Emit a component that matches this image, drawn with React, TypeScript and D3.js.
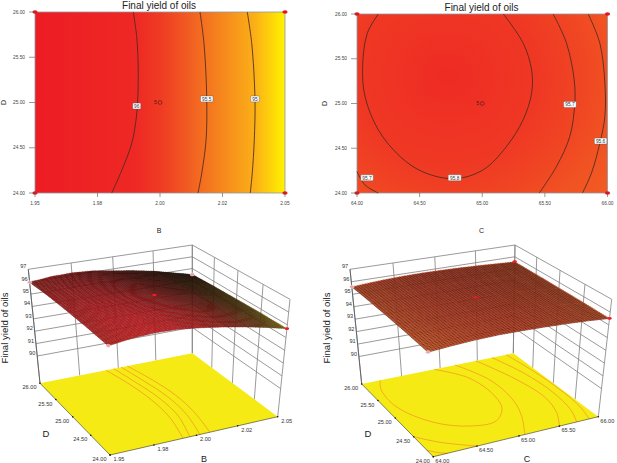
import * as React from 'react';
import * as d3 from 'd3';

type Pt = [number, number];

const FONT = '"Liberation Sans", Arial, sans-serif';
const TITLE = 'Final yield of oils';
const DTICKS = [24, 24.5, 25, 25.5, 26];
const BTICKS = [1.95, 1.975, 2.0, 2.025, 2.05];
const CTICKS = [64, 64.5, 65, 65.5, 66];
const BLABELS = ['1.95', '1.98', '2.00', '2.02', '2.05'];
const CLABELS = ['64.00', '64.50', '65.00', '65.50', '66.00'];
const DLABELS = ['24.00', '24.50', '25.00', '25.50', '26.00'];
const ZTICKS = [90, 91, 92, 93, 94, 95, 96, 97];

// contour lines, [x, D]
const B96: Pt[] = [[1.9893, 26], [1.9907, 25.72], [1.9913, 25.32], [1.9907, 24.88], [1.9887, 24.55], [1.9847, 24.25], [1.9807, 24]];
const B955: Pt[] = [[2.016, 26], [2.0176, 25.65], [2.0187, 25.03], [2.0184, 24.58], [2.0167, 24.22], [2.0152, 24]];
const B95: Pt[] = [[2.0349, 26], [2.0367, 25.65], [2.038, 25.03], [2.0377, 24.58], [2.0369, 24.22], [2.0361, 24]];
const C958: Pt[] = [[64.17, 26], [64.082, 25.784], [64.045, 25.413], [64.064, 25.078], [64.17, 24.706], [64.343, 24.409], [64.529, 24.234], [64.782, 24.16], [65.008, 24.26], [65.194, 24.52], [65.327, 24.82], [65.394, 25.115], [65.394, 25.375], [65.327, 25.673], [65.168, 26]];
const C957R: Pt[] = [[65.566, 26], [65.673, 25.673], [65.734, 25.264], [65.739, 25.004], [65.699, 24.632], [65.593, 24.297], [65.455, 24]];
const C957L: Pt[] = [[64, 24.24], [64.064, 24.09], [64.17, 24]];
const C956: Pt[] = [[65.846, 26], [65.939, 25.673], [65.979, 25.227], [65.979, 24.855], [65.939, 24.558], [65.872, 24.223], [65.8, 24]];

// colour of the flat plots along B, and outward from the optimum for C
const B_STOPS = [1.95, 1.99, 2.0, 2.0125, 2.025, 2.0375, 2.05];
const B_STOP_YIELD = [96.1, 96.0, 95.85, 95.6, 95.3, 95.0, 94.6];
const C_RADIUS = [0, 0.55, 0.8, 1, 1.4];
const C_RADIUS_YIELD = [95.9, 95.8, 95.7, 95.6, 95.45];

// response surfaces, rows are D = 24..26, columns run along the x factor
const B_GRID = [1.95, 1.9625, 1.975, 1.9875, 2.0, 2.0125, 2.025, 2.0375, 2.05];
const C_GRID = [64, 64.25, 64.5, 64.75, 65, 65.25, 65.5, 65.75, 66];
const B_SURFACE = [
  [95.9, 96.15, 96.25, 96.2, 96.0, 95.75, 95.45, 95.1, 94.7],
  [96.0, 96.25, 96.35, 96.3, 96.1, 95.85, 95.5, 95.15, 94.7],
  [96.05, 96.3, 96.35, 96.3, 96.1, 95.8, 95.5, 95.1, 94.65],
  [96.05, 96.25, 96.3, 96.2, 96.0, 95.7, 95.4, 95.0, 94.6],
  [95.95, 96.15, 96.2, 96.1, 95.85, 95.6, 95.3, 94.9, 94.5],
];
const C_SURFACE = [
  [95.45, 95.6, 95.72, 95.78, 95.78, 95.75, 95.7, 95.62, 95.5],
  [95.55, 95.72, 95.82, 95.88, 95.88, 95.84, 95.76, 95.68, 95.55],
  [95.6, 95.76, 95.86, 95.92, 95.92, 95.87, 95.8, 95.7, 95.56],
  [95.62, 95.76, 95.86, 95.9, 95.9, 95.85, 95.77, 95.68, 95.58],
  [95.6, 95.72, 95.8, 95.84, 95.83, 95.8, 95.74, 95.66, 95.58],
];

// contours printed on the floors of the 3D boxes
const B_FLOOR: Pt[][] = [
  [[1.992, 26], [1.996, 25.5], [1.998, 25], [1.997, 24.5], [1.992, 24]],
  [[1.997, 26], [2.0005, 25.5], [2.003, 25], [2.002, 24.5], [1.996, 24]],
  [[2.002, 26], [2.0055, 25.5], [2.008, 25], [2.007, 24.5], [2.002, 24]],
  [[2.006, 26], [2.0105, 25.5], [2.013, 25], [2.012, 24.5], [2.008, 24]],
];
const C_FLOOR: Pt[][] = [
  [[64.23, 26], [64.14, 25.75], [64.12, 25.26], [64.33, 24.71], [64.64, 24.45], [64.95, 24.43], [65.15, 24.68], [65.23, 25.06], [65.18, 25.59], [64.92, 26]],
  [[65.2, 26], [65.38, 25.4], [65.36, 24.8], [65.25, 24.4], [65.07, 24]],
  [[65.48, 26], [65.66, 25.3], [65.72, 24.7], [65.64, 24.3], [65.5, 24]],
  [[65.7, 26], [65.83, 25.4], [65.87, 24.8], [65.82, 24.3], [65.72, 24]],
  [[65.9, 26], [65.96, 25.4], [65.98, 24.8], [65.95, 24.3], [65.88, 24]],
  [[64, 24.5], [64.2, 24.25], [64.5, 24]],
  [[64, 24.16], [64.08, 24.06], [64.16, 24]],
];

const lineGen = d3.line().curve(d3.curveCatmullRom.alpha(0.5));

function ContourPanel(props: {
  box: { x0: number; x1: number; y0: number; y1: number };
  xDomain: Pt; xTicks: number[]; xLabels: string[]; xName: string;
  contours: Pt[][];
  labels: { text: string; at: Pt; w: number }[];
  center: Pt;
  fillId: string; fillDef: (x: d3.ScaleLinear<number, number>, y: d3.ScaleLinear<number, number>) => React.ReactNode;
  titleX: number; titleY: number; dX: number; xNameX: number; yLabelX: number;
}) {
  const { box, xDomain, center } = props;
  const x = d3.scaleLinear().domain(xDomain).range([box.x0, box.x1]);
  const y = d3.scaleLinear().domain([24, 26]).range([box.y1, box.y0]);
  const corners: Pt[] = [[xDomain[0], 24], [xDomain[1], 24], [xDomain[0], 26], [xDomain[1], 26]];
  return (
    <g fontFamily={FONT}>
      <defs>{props.fillDef(x, y)}</defs>
      <text x={props.titleX} y={props.titleY} fontSize={10} textAnchor="middle" fill="#222">{TITLE}</text>
      <rect x={box.x0} y={box.y0} width={box.x1 - box.x0} height={box.y1 - box.y0} fill={`url(#${props.fillId})`} stroke="#8c9aa0" strokeWidth={0.8} />
      {props.contours.map((c, i) => (
        <path key={i} d={lineGen(c.map((d) => [x(d[0]), y(d[1])] as Pt)) ?? ''} fill="none" stroke="#4a2a20" strokeWidth={0.85} />
      ))}
      {props.labels.map((l) => (
        <g key={l.text + l.at[0]}>
          <rect x={x(l.at[0]) - l.w / 2} y={y(l.at[1]) - 3} width={l.w} height={6} fill="#fff" stroke="#555" strokeWidth={0.4} rx={0.8} />
          <text x={x(l.at[0])} y={y(l.at[1]) + 1.8} fontSize={4.8} textAnchor="middle" fill="#333">{l.text}</text>
        </g>
      ))}
      <circle cx={x(center[0])} cy={y(center[1])} r={1.9} fill="none" stroke="#4a1a14" strokeWidth={0.6} />
      <text x={x(center[0]) - 4.5} y={y(center[1]) + 1.5} fontSize={5} textAnchor="middle" fill="#4a1a14">5</text>
      {corners.map((c) => (
        <ellipse key={c.join()} cx={x(c[0])} cy={y(c[1])} rx={2.6} ry={1.7} fill="#e8141c" />
      ))}
      {DTICKS.map((d, i) => (
        <g key={d}>
          <line x1={box.x0 - 6} x2={box.x0} y1={y(d)} y2={y(d)} stroke="#555" strokeWidth={0.6} />
          <text x={props.dX} y={y(d) + 1.7} fontSize={4.8} textAnchor="middle" fill="#444">{DLABELS[i]}</text>
        </g>
      ))}
      {props.xTicks.map((t, i) => (
        <g key={t}>
          <line x1={x(t)} x2={x(t)} y1={box.y1} y2={box.y1 + 4} stroke="#555" strokeWidth={0.6} />
          <text x={x(t)} y={box.y1 + 12} fontSize={4.8} textAnchor="middle" fill="#444">{props.xLabels[i]}</text>
        </g>
      ))}
      <text x={props.xNameX} y={233} fontSize={7} textAnchor="middle" fill="#222">{props.xName}</text>
      <text transform={`translate(${props.yLabelX},${y(25)}) rotate(-90)`} fontSize={7} textAnchor="middle" fill="#222">D</text>
    </g>
  );
}

function squareToQuad(q: Pt[]) {
  const [[x0, y0], [x1, y1], [x2, y2], [x3, y3]] = q;
  const dx1 = x1 - x2, dx2 = x3 - x2, sx = x0 - x1 + x2 - x3;
  const dy1 = y1 - y2, dy2 = y3 - y2, sy = y0 - y1 + y2 - y3;
  const den = dx1 * dy2 - dx2 * dy1;
  const g = (sx * dy2 - dx2 * sy) / den;
  const h = (dx1 * sy - sx * dy1) / den;
  const a = x1 - x0 + g * x1, b = x3 - x0 + h * x3;
  const d = y1 - y0 + g * y1, e = y3 - y0 + h * y3;
  return (u: number, v: number): Pt => {
    const w = g * u + h * v + 1;
    return [(a * u + b * v + x0) / w, (d * u + e * v + y0) / w];
  };
}

function SurfacePanel(props: {
  floor: Pt[]; top: Pt[];
  xGrid: number[]; xTicks: number[]; xLabels: string[]; xName: string; xNameAt: Pt;
  surface: number[][];
  floorLines: Pt[][];
  colorDomain: number[]; colorRange: string[]; backShade: number; meshOpacity: number;
  hot: boolean[];
  yTitleX: number; dNameAt: Pt;
}) {
  const { xGrid, surface, xTicks } = props;
  const u = d3.scaleLinear().domain([xGrid[0], xGrid[xGrid.length - 1]]).range([0, 1]);
  const v = d3.scaleLinear().domain([24, 26]).range([0, 1]);
  const t = d3.scaleLinear().domain([87.8, 97]).range([0, 1]);
  const floorAt = squareToQuad(props.floor);
  const topAt = squareToQuad(props.top);
  const project = (a: number, b: number, z: number): Pt => {
    const f = floorAt(a, b);
    const p = topAt(a, b);
    return [f[0] + (p[0] - f[0]) * t(z), f[1] + (p[1] - f[1]) * t(z)];
  };
  const color = d3.scaleLinear<string>().domain(props.colorDomain).range(props.colorRange);

  const cells: React.ReactNode[] = [];
  const nX = 8, nY = 14;
  for (let r = 0; r < DTICKS.length - 1; r++) {
    for (let c = 0; c < xGrid.length - 1; c++) {
      const z00 = surface[r][c], z10 = surface[r][c + 1], z01 = surface[r + 1][c], z11 = surface[r + 1][c + 1];
      const ua = u(xGrid[c]), ub = u(xGrid[c + 1]), va = v(DTICKS[r]), vb = v(DTICKS[r + 1]);
      const zAt = (s: number, w: number) => (z00 * (1 - s) + z10 * s) * (1 - w) + (z01 * (1 - s) + z11 * s) * w;
      const at = (s: number, w: number) => project(ua + (ub - ua) * s, va + (vb - va) * w, zAt(s, w));
      // mesh facets, darkened toward the far corner of the box
      let mesh = '';
      d3.range(nX).forEach((i) => {
        d3.range(nY).forEach((j) => {
          const s0 = i / nX, s1 = (i + 1) / nX, w0 = j / nY, w1 = (j + 1) / nY;
          const uu = ua + (ub - ua) * (s0 + s1) / 2, vv = va + (vb - va) * (w0 + w1) / 2;
          const fill = d3.interpolateRgb(color(zAt((s0 + s1) / 2, (w0 + w1) / 2)), '#120604')(props.backShade * vv * (0.3 + 0.7 * uu));
          cells.push(
            <polygon key={`${r}-${c}-${i}-${j}`} points={[at(s0, w0), at(s1, w0), at(s1, w1), at(s0, w1)].join(' ')} fill={fill} stroke={fill} strokeWidth={0.2} />,
          );
        });
        const a = at(i / nX, 0), b = at(i / nX, 1);
        mesh += `M${a[0]},${a[1]}L${b[0]},${b[1]}`;
      });
      d3.range(nY).forEach((j) => {
        const a = at(0, j / nY), b = at(1, j / nY);
        mesh += `M${a[0]},${a[1]}L${b[0]},${b[1]}`;
      });
      cells.push(<path key={`m${r}-${c}`} d={mesh} stroke="#1a0705" strokeWidth={0.45} strokeOpacity={props.meshOpacity} fill="none" />);
    }
  }

  const xMin = xGrid[0], xMax = xGrid[xGrid.length - 1];
  const surfCorners: [number, number, number][] = [
    [0, 0, surface[0][0]], [0, 1, surface[4][0]], [1, 1, surface[4][8]], [1, 0, surface[0][8]],
  ];
  const midZ = surface[2][4];
  const seg = (a: Pt, b: Pt, key: string, stroke = '#808080', w = 0.8) => (
    <line key={key} x1={a[0]} y1={a[1]} x2={b[0]} y2={b[1]} stroke={stroke} strokeWidth={w} />
  );
  const zTop = 97, zFloor = 87.8;

  return (
    <g fontFamily={FONT}>
      {/* back walls */}
      {ZTICKS.map((z) => seg(project(0, 1, z), project(1, 1, z), `a${z}`))}
      {ZTICKS.map((z) => seg(project(1, 1, z), project(1, 0, z), `b${z}`))}
      {xTicks.map((x) => seg(project(u(x), 1, zFloor), project(u(x), 1, zTop), `c${x}`))}
      {DTICKS.map((d) => seg(project(1, v(d), zFloor), project(1, v(d), zTop), `d${d}`))}
      {seg(project(0, 1, zFloor), project(0, 1, zTop), 'zaxis', '#555', 0.8)}
      <polygon points={props.floor.join(' ')} fill="#f5ea14" />
      {props.floorLines.map((l, i) => (
        <path key={i} d={lineGen(l.map((d) => floorAt(u(d[0]), v(d[1])))) ?? ''} fill="none" stroke="#f59a23" strokeWidth={0.8} />
      ))}
      {seg(props.floor[3], props.floor[0], 'e1', '#333', 0.6)}
      {seg(props.floor[0], props.floor[1], 'e2', '#333', 0.6)}
      {cells}
      {surfCorners.map(([a, b, z], i) => {
        const p = project(a, b, z);
        return props.hot[i]
          ? <ellipse key={i} cx={p[0]} cy={p[1]} rx={2.2} ry={1.4} fill="#ee1c25" />
          : <ellipse key={i} cx={p[0]} cy={p[1]} rx={2.2} ry={1.6} fill="#e8a0a4" stroke="#fff" strokeWidth={0.4} />;
      })}
      {(() => {
        const p = project(u((xMin + xMax) / 2), v(25), midZ);
        return <ellipse cx={p[0]} cy={p[1]} rx={2.2} ry={1.2} fill="#ee1c25" />;
      })()}
      {ZTICKS.map((z) => {
        const p = project(0, 1, z);
        return <text key={z} x={p[0] - 5} y={p[1] - 1} fontSize={5.6} textAnchor="middle" fill="#333">{z}</text>;
      })}
      {DTICKS.map((d, i) => {
        const p = floorAt(0, v(d));
        return (
          <g key={d}>
            <circle cx={p[0]} cy={p[1]} r={0.8} fill="#111" />
            <text x={p[0] - 10.5} y={p[1] + 6} fontSize={5.6} textAnchor="middle" fill="#333">{DLABELS[i]}</text>
          </g>
        );
      })}
      {xTicks.map((x, i) => {
        const p = floorAt(u(x), 0);
        return (
          <g key={x}>
            <circle cx={p[0]} cy={p[1]} r={0.8} fill="#111" />
            <text x={p[0] + 9} y={p[1] + 6} fontSize={5.6} textAnchor="middle" fill="#333">{props.xLabels[i]}</text>
          </g>
        );
      })}
      <text x={props.xNameAt[0]} y={props.xNameAt[1]} fontSize={9} textAnchor="middle" fill="#222">{props.xName}</text>
      <text x={props.dNameAt[0]} y={props.dNameAt[1]} fontSize={9.5} textAnchor="middle" fill="#222">D</text>
      <text transform={`translate(${props.yTitleX},328) rotate(-90)`} fontSize={9.6} textAnchor="middle" fill="#222">{TITLE}</text>
    </g>
  );
}

export default function App() {
  const bColor = d3.scaleLinear<string>()
    .domain([96.1, 95.85, 95.5, 95.0, 94.6])
    .range(['#ed1c24', '#ef3a23', '#f36f21', '#fbae17', '#fff200']);
  const cColor = d3.scaleLinear<string>()
    .domain([95.9, 95.45])
    .range(['#ee2b24', '#f26522']);

  return (
    <svg width={617} height={463} style={{ position: 'absolute', left: 0, top: 0, background: '#fff' }}>
      <ContourPanel
        box={{ x0: 35, x1: 285, y0: 12, y1: 193 }}
        xDomain={[1.95, 2.05]} xTicks={BTICKS} xLabels={BLABELS} xName="B"
        contours={[B96, B955, B95]}
        labels={[
          { text: '96', at: [1.9907, 24.96], w: 8 },
          { text: '95.5', at: [2.0187, 25.04], w: 12.5 },
          { text: '95', at: [2.038, 25.04], w: 8.5 },
        ]}
        center={[2.0, 25]}
        fillId="fillB"
        fillDef={(x) => (
          <linearGradient id="fillB" gradientUnits="userSpaceOnUse" x1={x(1.95)} x2={x(2.05)} y1={0} y2={0}>
            {B_STOPS.map((s, i) => (
              <stop key={s} offset={(s - 1.95) / 0.1} stopColor={bColor(B_STOP_YIELD[i])} />
            ))}
          </linearGradient>
        )}
        titleX={159} titleY={9} dX={19} xNameX={159} yLabelX={6}
      />
      <ContourPanel
        box={{ x0: 357, x1: 607.5, y0: 14, y1: 193 }}
        xDomain={[64, 66]} xTicks={CTICKS} xLabels={CLABELS} xName="C"
        contours={[C958, C957R, C957L, C956]}
        labels={[
          { text: '95.8', at: [64.78, 24.17], w: 13 },
          { text: '95.7', at: [65.7, 24.99], w: 12.5 },
          { text: '95.6', at: [65.945, 24.58], w: 12.5 },
          { text: '95.7', at: [64.08, 24.17], w: 12.5 },
        ]}
        center={[65, 25]}
        fillId="fillC"
        fillDef={(x, y) => (
          <radialGradient
            id="fillC" gradientUnits="userSpaceOnUse" cx={0} cy={0} r={1}
            gradientTransform={`translate(${x(64.72)},${y(25.3)}) scale(${(x(66.05) - x(64.72)) * 1.4},${(y(24) - y(25.3)) * 1.9})`}
          >
            {C_RADIUS.map((s, i) => (
              <stop key={s} offset={s / 1.4} stopColor={cColor(C_RADIUS_YIELD[i])} />
            ))}
          </radialGradient>
        )}
        titleX={481.5} titleY={11} dX={341} xNameX={481.5} yLabelX={327}
      />
      <SurfacePanel
        floor={[[110, 455], [277.7, 416.7], [192.3, 353.3], [40, 383.3]]}
        top={[[108, 331], [290, 299.3], [192.3, 245], [28.3, 269.3]]}
        xGrid={B_GRID} xTicks={BTICKS} xLabels={BLABELS} xName="B" xNameAt={[204, 461.5]}
        surface={B_SURFACE} floorLines={B_FLOOR}
        colorDomain={[96.3, 95.6, 95.1, 94.5]} colorRange={['#e8262c', '#a02a1c', '#7a5418', '#b0a826']}
        backShade={0.95} meshOpacity={0.55}
        hot={[false, false, false, true]}
        yTitleX={8} dNameAt={[46, 437]}
      />
      <SurfacePanel
        floor={[[433.3, 456.7], [598.3, 416.7], [513.3, 353.3], [361.7, 384]]}
        top={[[427, 331], [611.7, 299.3], [515, 245], [350, 269.3]]}
        xGrid={C_GRID} xTicks={CTICKS} xLabels={CLABELS} xName="C" xNameAt={[527, 461.5]}
        surface={C_SURFACE} floorLines={C_FLOOR}
        colorDomain={[95.9, 95.45]} colorRange={['#d8482a', '#e0642c']}
        backShade={0.1} meshOpacity={0.8}
        hot={[false, false, true, true]}
        yTitleX={330} dNameAt={[368, 437]}
      />
    </svg>
  );
}
